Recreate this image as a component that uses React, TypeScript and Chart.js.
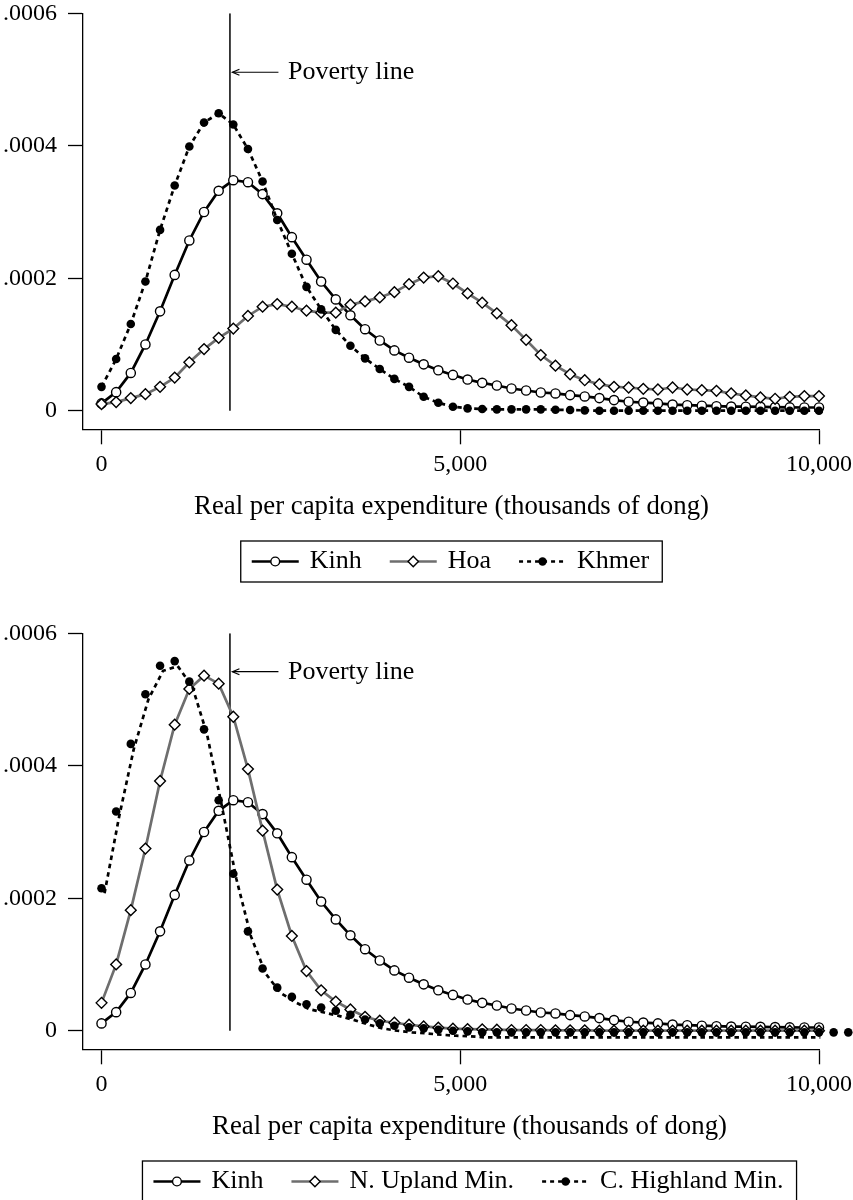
import React, { useEffect, useRef } from "react";
import { Chart, registerables } from "chart.js";

Chart.register(...registerables);

// ---------- data ----------
// evaluation grid (thousands of dong)
const xGrid = [
  0, 204, 408, 612, 816, 1020, 1224, 1429, 1633, 1837,
  2041, 2245, 2449, 2653, 2857, 3061, 3265, 3469, 3673, 3878,
  4082, 4286, 4490, 4694, 4898, 5102, 5306, 5510, 5714, 5918,
  6122, 6327, 6531, 6735, 6939, 7143, 7347, 7551, 7755, 7959,
  8163, 8367, 8571, 8776, 8980, 9184, 9388, 9592, 9796, 10000,
];
const xGridHighlandTail = [10204, 10408];

const kinh = [
  0.11e-4, 0.28e-4, 0.57e-4, 1.0e-4, 1.5e-4, 2.05e-4, 2.57e-4, 3.0e-4, 3.32e-4, 3.48e-4,
  3.45e-4, 3.27e-4, 2.98e-4, 2.62e-4, 2.28e-4, 1.95e-4, 1.68e-4, 1.44e-4, 1.23e-4, 1.06e-4,
  0.91e-4, 0.8e-4, 0.7e-4, 0.61e-4, 0.54e-4, 0.47e-4, 0.42e-4, 0.38e-4, 0.335e-4, 0.305e-4,
  0.275e-4, 0.26e-4, 0.235e-4, 0.215e-4, 0.19e-4, 0.16e-4, 0.135e-4, 0.123e-4, 0.11e-4, 0.093e-4,
  0.083e-4, 0.075e-4, 0.068e-4, 0.062e-4, 0.06e-4, 0.058e-4, 0.055e-4, 0.05e-4, 0.048e-4, 0.048e-4,
];
const hoa = [
  0.1e-4, 0.13e-4, 0.19e-4, 0.25e-4, 0.36e-4, 0.5e-4, 0.73e-4, 0.93e-4, 1.1e-4, 1.24e-4,
  1.43e-4, 1.57e-4, 1.61e-4, 1.57e-4, 1.51e-4, 1.48e-4, 1.48e-4, 1.6e-4, 1.65e-4, 1.71e-4,
  1.79e-4, 1.91e-4, 2.01e-4, 2.03e-4, 1.92e-4, 1.77e-4, 1.63e-4, 1.47e-4, 1.29e-4, 1.07e-4,
  0.84e-4, 0.68e-4, 0.55e-4, 0.46e-4, 0.4e-4, 0.36e-4, 0.35e-4, 0.33e-4, 0.32e-4, 0.35e-4,
  0.32e-4, 0.31e-4, 0.3e-4, 0.26e-4, 0.23e-4, 0.2e-4, 0.18e-4, 0.21e-4, 0.22e-4, 0.22e-4,
];
const khmer = [
  0.36e-4, 0.78e-4, 1.31e-4, 1.95e-4, 2.73e-4, 3.4e-4, 3.99e-4, 4.35e-4, 4.49e-4, 4.32e-4,
  3.95e-4, 3.46e-4, 2.88e-4, 2.37e-4, 1.87e-4, 1.53e-4, 1.22e-4, 0.98e-4, 0.79e-4, 0.63e-4,
  0.48e-4, 0.36e-4, 0.21e-4, 0.12e-4, 0.06e-4, 0.035e-4, 0.025e-4, 0.02e-4, 0.02e-4, 0.02e-4,
  0.02e-4, 0.015e-4, 0.01e-4, 0.005e-4, 0, 0, 0, 0, 0, 0,
  0, 0, 0, 0, 0, 0, 0, 0, 0, 0,
];
const nUpland = [
  0.42e-4, 1.0e-4, 1.82e-4, 2.75e-4, 3.77e-4, 4.62e-4, 5.16e-4, 5.36e-4, 5.24e-4, 4.74e-4,
  3.95e-4, 3.02e-4, 2.13e-4, 1.43e-4, 0.9e-4, 0.61e-4, 0.44e-4, 0.32e-4, 0.21e-4, 0.15e-4,
  0.12e-4, 0.09e-4, 0.065e-4, 0.045e-4, 0.03e-4, 0.025e-4, 0.02e-4, 0.015e-4, 0.01e-4, 0.01e-4,
  0.01e-4, 0.005e-4, 0.005e-4, 0.005e-4, 0, 0, 0, 0, 0, 0,
  0, 0, 0, 0, 0, 0, 0, 0, 0, 0,
];
const cHighland = [
  2.15e-4, 3.31e-4, 4.33e-4, 5.08e-4, 5.51e-4, 5.58e-4, 5.27e-4, 4.55e-4, 3.48e-4, 2.37e-4,
  1.5e-4, 0.94e-4, 0.65e-4, 0.51e-4, 0.4e-4, 0.35e-4, 0.3e-4, 0.24e-4, 0.17e-4, 0.11e-4,
  0.075e-4, 0.05e-4, 0.035e-4, 0.015e-4, 0, -0.01e-4, -0.025e-4, -0.025e-4, -0.025e-4, -0.025e-4,
  -0.025e-4, -0.025e-4, -0.025e-4, -0.025e-4, -0.025e-4, -0.025e-4, -0.025e-4, -0.025e-4, -0.025e-4, -0.025e-4,
  -0.025e-4, -0.025e-4, -0.025e-4, -0.025e-4, -0.025e-4, -0.025e-4, -0.025e-4, -0.025e-4, -0.025e-4, -0.025e-4,
  -0.025e-4, -0.025e-4,
];

const xTicks = [0, 5000, 10000];
const xTickLabels = ["0", "5,000", "10,000"];
const yTicks = [0, 0.0002, 0.0004, 0.0006];
const yTickLabels = ["0", ".0002", ".0004", ".0006"];

const povertyLine = 1790;
const povertyLabel = "Poverty line";
const xTitle = "Real per capita expenditure (thousands of dong)";

// ---------- style / layout ----------
const FONT = '"Liberation Serif", "Times New Roman", serif';
const INK = "#000";
const GREY = "#6e6e6e";
const X_MIN = -258;
const X_MAX = 10000;
const Y_MIN = -0.0000281;
const Y_MAX = 0.0006;
const LINE_SHIFT_X = 42;
const LINE_SHIFT_Y = 0.0000076;

type Marker = "circle" | "diamond" | "dot";
type LegendEntry = { label: string; color: string; dash: number[]; marker: Marker };

const toPoints = (xs: number[], ys: number[]) => ys.map((y, i) => ({ x: xs[i], y }));

function drawMarker(ctx: CanvasRenderingContext2D, m: Marker, x: number, y: number) {
  ctx.save();
  ctx.setLineDash([]);
  ctx.lineWidth = 1.4;
  ctx.strokeStyle = INK;
  ctx.beginPath();
  if (m === "circle") {
    ctx.arc(x, y, 4.4, 0, Math.PI * 2);
    ctx.fillStyle = "#fff";
    ctx.fill();
    ctx.stroke();
  } else if (m === "diamond") {
    ctx.moveTo(x - 5.2, y);
    ctx.lineTo(x, y - 5.2);
    ctx.lineTo(x + 5.2, y);
    ctx.lineTo(x, y + 5.2);
    ctx.closePath();
    ctx.fillStyle = "#fff";
    ctx.fill();
    ctx.stroke();
  } else {
    ctx.arc(x, y, 4.2, 0, Math.PI * 2);
    ctx.fillStyle = INK;
    ctx.fill();
  }
  ctx.restore();
}

function decorPlugin(opts: { legend: LegendEntry[]; centerX: number; arrowValue: number }) {
  return {
    id: "decor",
    afterDatasetsDraw(chart: any) {
      // points of unclipped datasets that lie past the plot edge (Chart.js skips them)
      const { ctx, chartArea } = chart;
      const wide = { left: -1e5, top: -1e5, right: 1e5, bottom: 1e5 };
      chart.data.datasets.forEach((ds: any, i: number) => {
        if (ds.clip !== false) return;
        chart.getDatasetMeta(i).data.forEach((el: any) => {
          if (el.x > chartArea.right + 2) el.draw(ctx, wide);
        });
      });
    },
    afterDraw(chart: any) {
      const { ctx, chartArea, scales } = chart;
      const xs = scales.x;
      const ys = scales.y;
      ctx.save();
      // poverty line arrow + label
      const tipX = xs.getPixelForValue(povertyLine) + 2.5;
      const tailX = tipX + 46;
      const ay = ys.getPixelForValue(opts.arrowValue);
      ctx.strokeStyle = INK;
      ctx.lineWidth = 1.2;
      ctx.setLineDash([]);
      ctx.beginPath();
      ctx.moveTo(tailX, ay);
      ctx.lineTo(tipX, ay);
      ctx.stroke();
      ctx.beginPath();
      ctx.moveTo(tipX + 7, ay - 3);
      ctx.lineTo(tipX, ay);
      ctx.lineTo(tipX + 7, ay + 3);
      ctx.stroke();
      ctx.fillStyle = INK;
      ctx.font = `26px ${FONT}`;
      ctx.textAlign = "left";
      ctx.textBaseline = "middle";
      ctx.fillText(povertyLabel, tailX + 9.5, ay);

      // axis title
      ctx.font = `26.8px ${FONT}`;
      ctx.textAlign = "center";
      ctx.fillText(xTitle, opts.centerX, chartArea.bottom + 78);

      // legend
      ctx.font = `26px ${FONT}`;
      const symW = 47;
      const symGap = 11;
      const itemGap = 28;
      const padL = 11;
      const padR = 13;
      const widths = opts.legend.map((e) => ctx.measureText(e.label).width);
      let total = padL + padR + itemGap * (opts.legend.length - 1);
      widths.forEach((w) => (total += symW + symGap + w));
      const boxL = opts.centerX - total / 2;
      const boxT = chartArea.bottom + 111.7;
      const boxH = 41;
      const cy = boxT + boxH / 2;
      ctx.lineWidth = 1.3;
      ctx.strokeStyle = INK;
      ctx.strokeRect(boxL, boxT, total, boxH);
      let cx = boxL + padL;
      opts.legend.forEach((e, i) => {
        ctx.save();
        ctx.strokeStyle = e.color;
        ctx.lineWidth = 2.6;
        ctx.setLineDash(e.dash);
        ctx.beginPath();
        ctx.moveTo(cx, cy);
        ctx.lineTo(cx + symW, cy);
        ctx.stroke();
        ctx.restore();
        drawMarker(ctx, e.marker, cx + symW / 2, cy);
        ctx.fillStyle = INK;
        ctx.textAlign = "left";
        ctx.textBaseline = "middle";
        ctx.fillText(e.label, cx + symW + symGap, cy);
        cx += symW + symGap + widths[i] + itemGap;
      });
      ctx.restore();
    },
  };
}

function baseScales(extra: any = {}) {
  return {
    x: {
      type: "linear",
      position: "bottom",
      bounds: "data",
      afterDataLimits: (s: any) => {
        s.min = X_MIN;
        s.max = X_MAX;
      },
      afterBuildTicks: (s: any) => {
        s.ticks = xTicks.map((value) => ({ value }));
      },
      afterFit: (s: any) => {
        s.height = 190.7;
        s.paddingLeft = 0;
        s.paddingRight = 0;
      },
      ticks: {
        autoSkip: false,
        maxRotation: 0,
        padding: 6.3,
        color: INK,
        font: { family: FONT, size: 24, lineHeight: 1.2 },
        callback: (_v: any, i: number) => xTickLabels[i],
      },
      grid: { drawOnChartArea: false, drawTicks: true, tickLength: 15, tickWidth: 1.3, tickColor: INK, color: INK },
      border: { display: true, color: INK, width: 1.3 },
    },
    y: {
      type: "linear",
      position: "left",
      bounds: "data",
      min: Y_MIN,
      max: Y_MAX,
      afterBuildTicks: (s: any) => {
        s.ticks = yTicks.map((value) => ({ value }));
      },
      afterFit: (s: any) => {
        s.width = 83;
        s.paddingTop = 0;
        s.paddingBottom = 0;
      },
      ticks: {
        padding: 11,
        color: INK,
        font: { family: FONT, size: 24, lineHeight: 1 },
        callback: (_v: any, i: number) => yTickLabels[i],
      },
      grid: { drawOnChartArea: false, drawTicks: true, tickLength: 15, tickWidth: 1.3, tickColor: INK, color: INK },
      border: { display: true, color: INK, width: 1.3 },
    },
    ...extra,
  };
}

const lineDefaults = { tension: 0, pointHoverRadius: 0, pointHitRadius: 0 };

function povertyDataset() {
  return {
    ...lineDefaults,
    label: "poverty",
    data: [
      { x: povertyLine, y: 0 },
      { x: povertyLine, y: Y_MAX },
    ],
    borderColor: INK,
    borderWidth: 1.5,
    pointRadius: 0,
    order: 10,
  };
}

function kinhDataset() {
  return {
    ...lineDefaults,
    label: "Kinh",
    data: toPoints(xGrid, kinh),
    borderColor: INK,
    borderWidth: 2.7,
    pointStyle: "circle",
    pointRadius: 4.6,
    pointBorderWidth: 1.4,
    pointBorderColor: INK,
    pointBackgroundColor: "#fff",
    order: 3,
  };
}

function diamondDataset(label: string, values: number[]) {
  return {
    ...lineDefaults,
    label,
    data: toPoints(xGrid, values),
    borderColor: GREY,
    borderWidth: 2.7,
    pointStyle: "rectRot",
    pointRadius: 5.4,
    pointBorderWidth: 1.4,
    pointBorderColor: INK,
    pointBackgroundColor: "#fff",
    order: 2,
  };
}

const chartOptions = (extraScales: any = {}) => ({
  animation: false,
  responsive: false,
  devicePixelRatio: 1,
  events: [],
  layout: { padding: { top: 13.3, right: 34, bottom: 0, left: 0 } },
  plugins: { legend: { display: false }, tooltip: { enabled: false } },
  scales: baseScales(extraScales),
});

function topConfig(): any {
  return {
    type: "line",
    data: {
      datasets: [
        povertyDataset(),
        kinhDataset(),
        diamondDataset("Hoa", hoa),
        {
          ...lineDefaults,
          label: "Khmer",
          data: toPoints(xGrid, khmer),
          borderColor: INK,
          borderWidth: 2.7,
          borderDash: [4.5, 4],
          pointStyle: "circle",
          pointRadius: 4.3,
          pointBorderWidth: 0,
          pointBackgroundColor: INK,
          order: 1,
        },
      ],
    },
    options: chartOptions(),
    plugins: [
      decorPlugin({
        centerX: 451.5,
        arrowValue: 0.000511,
        legend: [
          { label: "Kinh", color: INK, dash: [], marker: "circle" },
          { label: "Hoa", color: GREY, dash: [], marker: "diamond" },
          { label: "Khmer", color: INK, dash: [4, 4], marker: "dot" },
        ],
      }),
    ],
  };
}

function bottomConfig(): any {
  const highlandX = [...xGrid, ...xGridHighlandTail];
  return {
    type: "line",
    data: {
      datasets: [
        povertyDataset(),
        kinhDataset(),
        diamondDataset("N. Upland Min.", nUpland),
        {
          ...lineDefaults,
          label: "C. Highland Min. line",
          data: toPoints(highlandX, cHighland),
          xAxisID: "x2",
          yAxisID: "y2",
          borderColor: INK,
          borderWidth: 2.7,
          borderDash: [4.5, 4],
          pointRadius: 0,
          order: 1.5,
        },
        {
          ...lineDefaults,
          label: "C. Highland Min.",
          data: toPoints(highlandX, cHighland),
          showLine: false,
          pointStyle: "circle",
          pointRadius: 4.3,
          pointBorderWidth: 0,
          pointBackgroundColor: INK,
          clip: false,
          order: 1,
        },
      ],
    },
    options: chartOptions({
      x2: {
        type: "linear",
        display: false,
        bounds: "data",
        afterDataLimits: (s: any) => {
          s.min = X_MIN - LINE_SHIFT_X;
          s.max = X_MAX - LINE_SHIFT_X;
        },
      },
      y2: {
        type: "linear",
        display: false,
        bounds: "data",
        min: Y_MIN + LINE_SHIFT_Y,
        max: Y_MAX + LINE_SHIFT_Y,
      },
    }),
    plugins: [
      decorPlugin({
        centerX: 469.5,
        arrowValue: 0.000542,
        legend: [
          { label: "Kinh", color: INK, dash: [], marker: "circle" },
          { label: "N. Upland Min.", color: GREY, dash: [], marker: "diamond" },
          { label: "C. Highland Min.", color: INK, dash: [4, 4], marker: "dot" },
        ],
      }),
    ],
  };
}

function Panel({ makeConfig, top }: { makeConfig: () => any; top: number }) {
  const ref = useRef<HTMLCanvasElement>(null);
  useEffect(() => {
    if (!ref.current) return;
    const chart = new Chart(ref.current, makeConfig());
    return () => chart.destroy();
  }, [makeConfig]);
  return (
    <canvas
      ref={ref}
      width={853}
      height={620}
      style={{ position: "absolute", left: 0, top, width: 853, height: 620 }}
    />
  );
}

export default function App() {
  return (
    <div
      style={{
        position: "absolute",
        left: 0,
        top: 0,
        width: 853,
        height: 1200,
        overflow: "hidden",
        background: "#fff",
      }}
    >
      <Panel makeConfig={topConfig} top={0} />
      <Panel makeConfig={bottomConfig} top={620} />
    </div>
  );
}
